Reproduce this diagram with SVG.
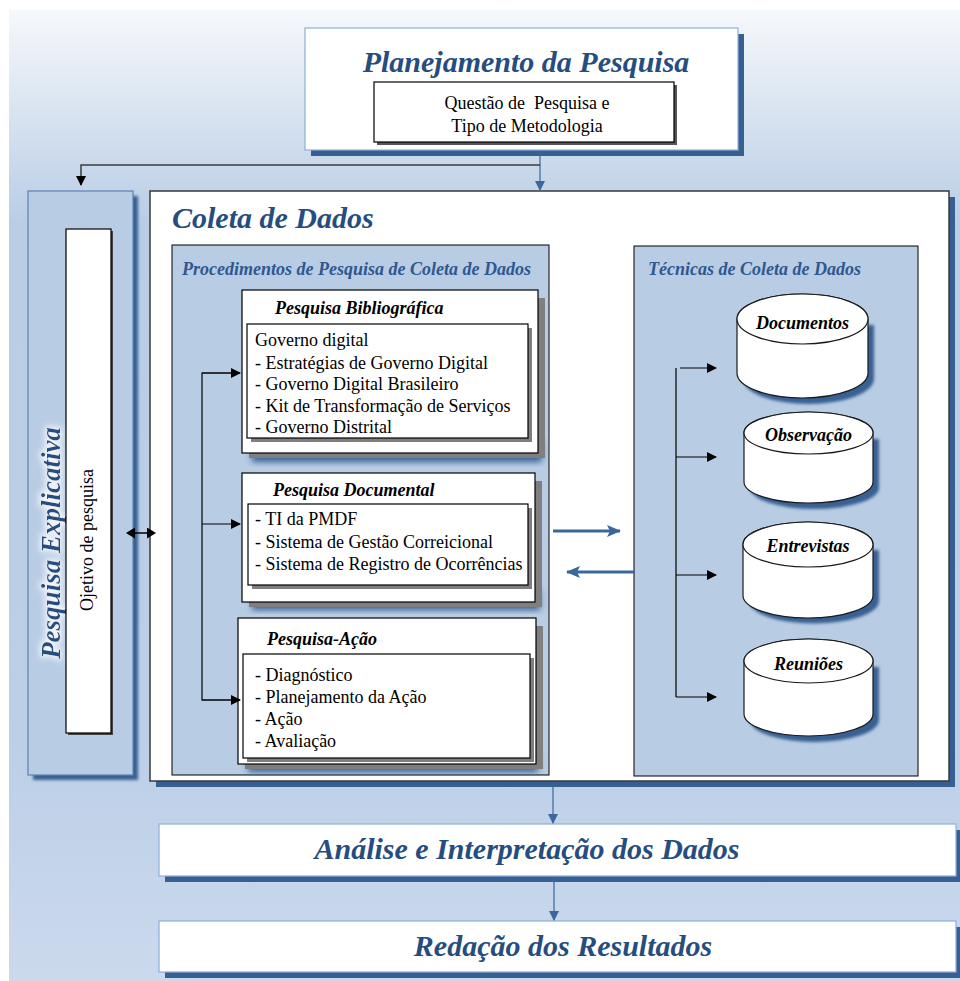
<svg xmlns="http://www.w3.org/2000/svg" width="960" height="981" viewBox="0 0 960 981">
<defs>
<linearGradient id="bg" x1="0" y1="0" x2="0" y2="1">
<stop offset="0" stop-color="#f6f8fb"/>
<stop offset="0.22" stop-color="#b9cde5"/>
<stop offset="0.75" stop-color="#bccfe7"/>
<stop offset="1" stop-color="#cbd9ec"/>
</linearGradient>
<filter id="blur" x="-20%" y="-20%" width="140%" height="140%"><feGaussianBlur stdDeviation="3"/></filter>
<filter id="blur2" x="-20%" y="-20%" width="140%" height="140%"><feGaussianBlur stdDeviation="1.5"/></filter>
<filter id="glow" x="-20%" y="-20%" width="140%" height="140%">
<feMorphology in="SourceAlpha" operator="dilate" radius="2" result="d"/>
<feGaussianBlur in="d" stdDeviation="3" result="b"/>
<feFlood flood-color="#ffffff" flood-opacity="0.8"/>
<feComposite in2="b" operator="in" result="g"/>
<feMerge><feMergeNode in="g"/><feMergeNode in="SourceGraphic"/></feMerge>
</filter>
<marker id="ak" markerWidth="10" markerHeight="10" refX="9" refY="5" orient="auto" markerUnits="userSpaceOnUse"><path d="M0,0 L10,5 L0,10 z" fill="#000"/></marker>
<marker id="ab" markerWidth="10" markerHeight="10" refX="9" refY="5" orient="auto" markerUnits="userSpaceOnUse"><path d="M0,0 L10,5 L0,10 z" fill="#3a679c"/></marker>
<marker id="abl" markerWidth="14" markerHeight="12" refX="13" refY="6" orient="auto" markerUnits="userSpaceOnUse"><path d="M0,0 L14,6 L0,12 L3,6 z" fill="#3a679c"/></marker>
<marker id="akr" markerWidth="9" markerHeight="11" refX="1" refY="5.5" orient="auto-start-reverse" markerUnits="userSpaceOnUse"><path d="M0,0 L9,5.5 L0,11 z" fill="#000"/></marker>
</defs>
<style>
.title{font-family:"Liberation Serif",serif;font-weight:bold;font-style:italic;fill:#264d80}
.sub{font-family:"Liberation Serif",serif;font-weight:bold;font-style:italic;fill:#2d5890;font-size:18px}
.h{font-family:"Liberation Serif",serif;font-weight:bold;font-style:italic;fill:#000;font-size:18px}
.t{font-family:"Liberation Serif",serif;fill:#000;font-size:18px}
.wb{fill:#fff;stroke:#000;stroke-width:1.2}
.panel{fill:#b8cce4;stroke:#000;stroke-width:1}
.sh{fill:#376092}
.gs{fill:#7f7f7f}
.cyl{fill:#fff;stroke:#1a1a1a;stroke-width:1.2}
.ln{fill:none;stroke:#000;stroke-width:1.2}
</style>
<rect x="0" y="0" width="960" height="981" fill="#fff"/>
<rect x="9" y="10" width="951" height="971" fill="url(#bg)"/>

<g id="planejamento">
<rect x="311" y="34" width="433" height="122" class="sh"/>
<rect x="305" y="28" width="433" height="122" fill="#fff" stroke="#8eaedb" stroke-width="1.2"/>
<text x="526" y="72" class="title" font-size="30" text-anchor="middle">Planejamento da Pesquisa</text>
<rect x="377" y="85" width="300" height="60" fill="#555"/>
<rect x="374" y="82" width="300" height="60" class="wb"/>
<text x="527" y="109" class="t" text-anchor="middle" xml:space="preserve">Questão de  Pesquisa e</text>
<text x="527" y="132" class="t" text-anchor="middle">Tipo de Metodologia</text>
</g>

<g id="explicativa">
<rect x="33" y="196" width="105" height="584" class="sh" filter="url(#blur2)"/>
<rect x="28" y="191" width="105" height="584" fill="#b8cce4" stroke="#5a82b6" stroke-width="1.2"/>
<text transform="translate(60,543) rotate(-90)" class="title" font-size="27" text-anchor="middle" filter="url(#glow)">Pesquisa Explicativa</text>
<rect x="68" y="231" width="45" height="504" fill="#444"/>
<rect x="66" y="229" width="45" height="504" class="wb"/>
<text transform="translate(93,540) rotate(-90)" class="t" text-anchor="middle">Ojetivo de pesquisa</text>
</g>

<g id="coleta">
<rect x="156" y="197" width="799" height="590" class="sh"/>
<rect x="150" y="191" width="799" height="590" fill="#fff" stroke="#3a3a3a" stroke-width="1.5"/>
<text x="172" y="228" class="title" font-size="30">Coleta de Dados</text>
</g>

<g id="procedimentos">
<rect x="172" y="245" width="377" height="530" class="panel"/>
<text x="182" y="275" class="sub">Procedimentos de Pesquisa de Coleta de Dados</text>
</g>

<g id="bibliografica">
<rect x="252" y="440" width="290" height="22" class="sh" filter="url(#blur)"/>
<rect x="249" y="298" width="296" height="160" class="gs"/>
<rect x="242" y="290" width="296" height="163" class="wb"/>
<text x="275" y="314" class="h">Pesquisa Bibliográfica</text>
<rect x="251" y="328" width="281" height="114" class="gs"/>
<rect x="247" y="324" width="281" height="114" class="wb"/>
<text x="255" y="346" class="t">Governo digital</text>
<text x="255" y="369" class="t">- Estratégias de Governo Digital</text>
<text x="255" y="390" class="t">- Governo Digital Brasileiro</text>
<text x="255" y="412" class="t">- Kit de Transformação de Serviços</text>
<text x="255" y="433" class="t">- Governo Distrital</text>
</g>

<g id="documental">
<rect x="252" y="590" width="288" height="20" class="sh" filter="url(#blur)"/>
<rect x="249" y="481" width="293" height="126" class="gs"/>
<rect x="242" y="473" width="293" height="129" class="wb"/>
<text x="273" y="496" class="h">Pesquisa Documental</text>
<rect x="252" y="508" width="280" height="81" class="gs"/>
<rect x="248" y="504" width="280" height="81" class="wb"/>
<text x="255" y="525" class="t">- TI da PMDF</text>
<text x="255" y="548" class="t">- Sistema de Gestão Correicional</text>
<text x="255" y="570" class="t">- Sistema de Registro de Ocorrências</text>
</g>

<g id="acao">
<rect x="248" y="752" width="290" height="20" class="sh" filter="url(#blur)"/>
<rect x="245" y="626" width="298" height="143" class="gs"/>
<rect x="238" y="618" width="298" height="146" class="wb"/>
<text x="267" y="645" class="h">Pesquisa-Ação</text>
<rect x="247" y="658" width="287" height="104" class="gs"/>
<rect x="243" y="654" width="287" height="104" class="wb"/>
<text x="255" y="681" class="t">- Diagnóstico</text>
<text x="255" y="703" class="t">- Planejamento da Ação</text>
<text x="255" y="725" class="t">- Ação</text>
<text x="255" y="747" class="t">- Avaliação</text>
</g>

<g id="tecnicas">
<rect x="634" y="246" width="284" height="530" class="panel"/>
<text x="648" y="275" class="sub">Técnicas de Coleta de Dados</text>
</g>

<g id="documentos">
<path d="M743,325 L743,379 A65.5,25 0 0 0 874,379 L874,325 Z" class="sh" filter="url(#blur2)"/>
<path d="M737,319 L737,373 A65.5,25 0 0 0 868,373 L868,319 A65.5,25 0 0 0 737,319 Z" class="cyl"/>
<ellipse cx="802.5" cy="319" rx="65.5" ry="25" class="cyl"/>
<text x="802.5" y="329" class="h" text-anchor="middle">Documentos</text>
</g>

<g id="observacao">
<path d="M750,439 L750,488 A64.5,21 0 0 0 879,488 L879,439 Z" class="sh" filter="url(#blur2)"/>
<path d="M744,433 L744,482 A64.5,21 0 0 0 873,482 L873,433 A64.5,21 0 0 0 744,433 Z" class="cyl"/>
<ellipse cx="808.5" cy="433" rx="64.5" ry="21" class="cyl"/>
<text x="808.5" y="441" class="h" text-anchor="middle">Observação</text>
</g>

<g id="entrevistas">
<path d="M749,550 L749,601 A65,22.5 0 0 0 879,601 L879,550 Z" class="sh" filter="url(#blur2)"/>
<path d="M743,544.5 L743,595.5 A65,22.5 0 0 0 873,595.5 L873,544.5 A65,22.5 0 0 0 743,544.5 Z" class="cyl"/>
<ellipse cx="808" cy="544.5" rx="65" ry="22.5" class="cyl"/>
<text x="808" y="552" class="h" text-anchor="middle">Entrevistas</text>
</g>

<g id="reunioes">
<path d="M750,667 L750,720 A64.5,22 0 0 0 879,720 L879,667 Z" class="sh" filter="url(#blur2)"/>
<path d="M744,661 L744,714 A64.5,22 0 0 0 873,714 L873,661 A64.5,22 0 0 0 744,661 Z" class="cyl"/>
<ellipse cx="808.5" cy="661" rx="64.5" ry="22" class="cyl"/>
<text x="808.5" y="670" class="h" text-anchor="middle">Reuniões</text>
</g>

<g id="analise">
<rect x="165" y="830" width="797" height="52" class="sh"/>
<rect x="159" y="824" width="797" height="52" fill="#fff" stroke="#8eaedb" stroke-width="1.2"/>
<text x="527" y="859" class="title" font-size="30" text-anchor="middle">Análise e Interpretação dos Dados</text>
</g>

<g id="redacao">
<rect x="165" y="927" width="797" height="51" class="sh"/>
<rect x="159" y="921" width="797" height="51" fill="#fff" stroke="#8eaedb" stroke-width="1.2"/>
<text x="563" y="956" class="title" font-size="30" text-anchor="middle">Redação dos Resultados</text>
</g>

<g id="connectors">
<path d="M540,151 L540,190" fill="none" stroke="#3a679c" stroke-width="1.2" marker-end="url(#ab)"/>
<path d="M540,165 L81,165 L81,185" fill="none" stroke="#3c3c3c" stroke-width="1.5" marker-end="url(#ak)"/>
<path d="M134,533 L148,533" fill="none" stroke="#000" stroke-width="1.5" marker-start="url(#akr)" marker-end="url(#akr)"/>
<path d="M240,373 L202,373 L202,700 L240,700" class="ln"/>
<path d="M202,373 L240,373" class="ln" marker-end="url(#ak)"/>
<path d="M202,524 L240,524" class="ln" marker-end="url(#ak)"/>
<path d="M202,700 L240,700" class="ln" marker-end="url(#ak)"/>
<path d="M676,368 L676,697" class="ln"/>
<path d="M680,368 L716,368" class="ln" marker-end="url(#ak)"/>
<path d="M676,457 L716,457" class="ln" marker-end="url(#ak)"/>
<path d="M676,575 L716,575" class="ln" marker-end="url(#ak)"/>
<path d="M676,697 L716,697" class="ln" marker-end="url(#ak)"/>
<path d="M553,531 L620,531" fill="none" stroke="#3a679c" stroke-width="3" marker-end="url(#abl)"/>
<path d="M634,572 L567,572" fill="none" stroke="#3a679c" stroke-width="3" marker-end="url(#abl)"/>
<path d="M553,787 L553,823" fill="none" stroke="#3a679c" stroke-width="1.2" marker-end="url(#ab)"/>
<path d="M554,877 L554,920" fill="none" stroke="#3a679c" stroke-width="1.2" marker-end="url(#ab)"/>
</g>
</svg>
